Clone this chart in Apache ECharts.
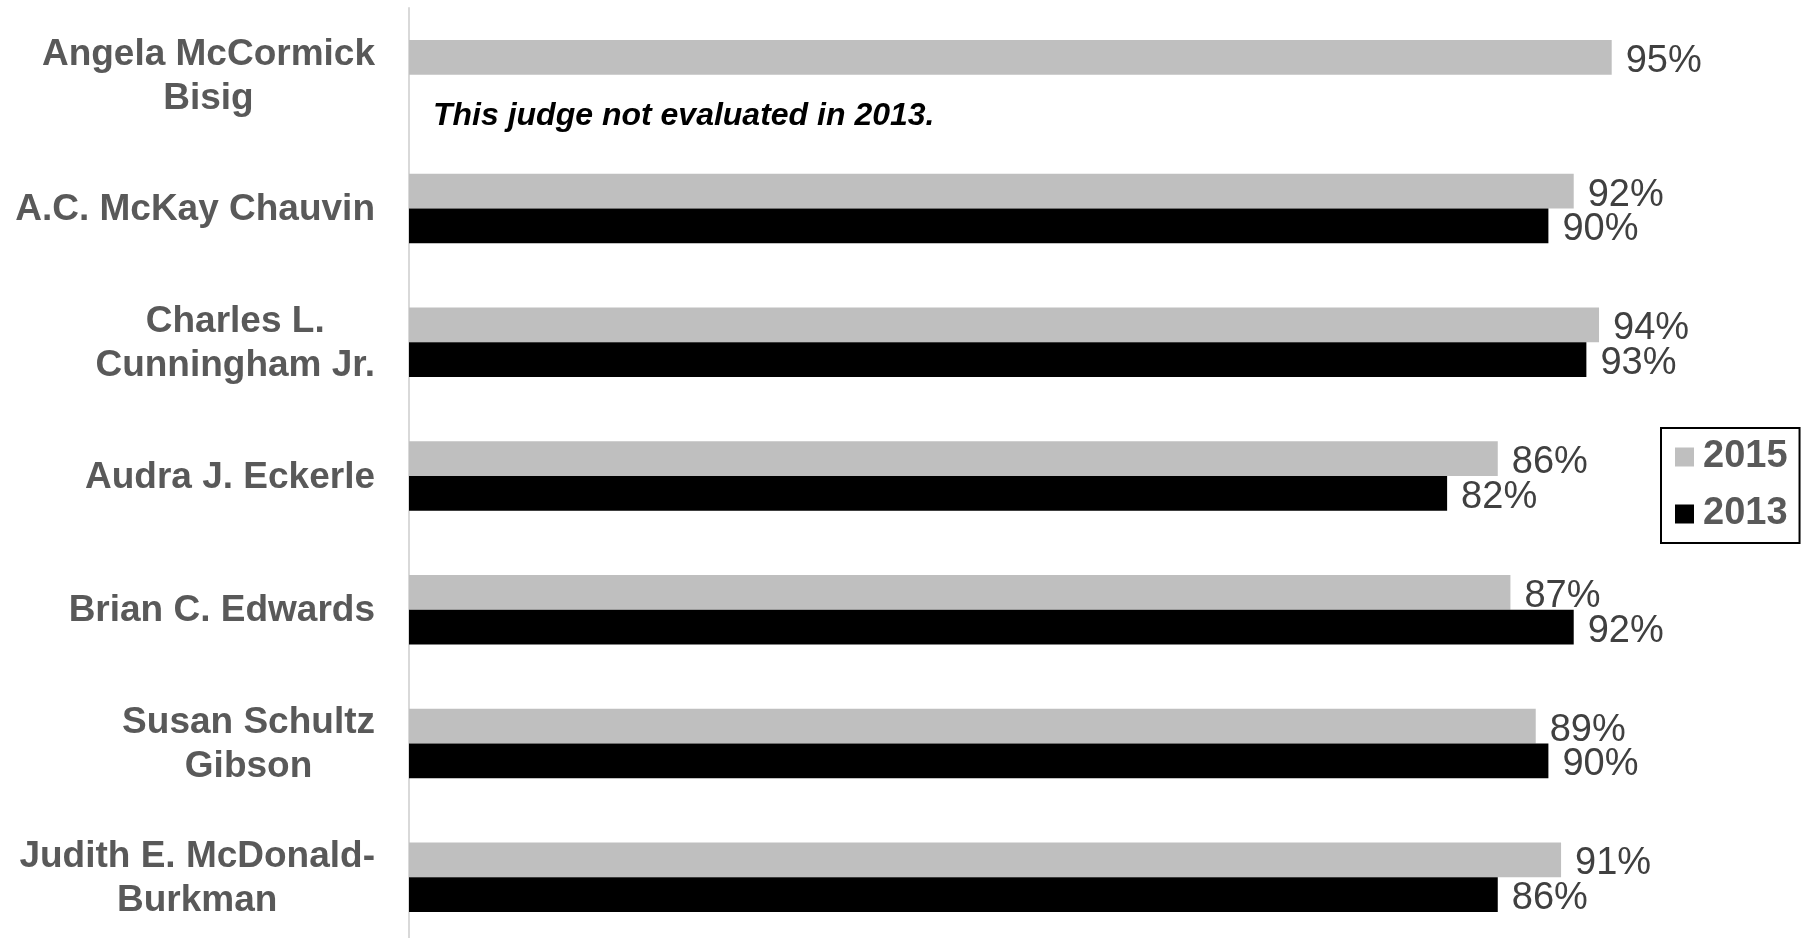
<!DOCTYPE html>
<html>
<head>
<meta charset="utf-8">
<script src="https://cdn.jsdelivr.net/npm/echarts@6/dist/echarts.min.js"></script>
<style>
  html, body { margin: 0; padding: 0; background: #fff; }
  #main { width: 1805px; height: 938px; }
</style>
</head>
<body>
<div id="main"></div>
<script>
// judges, top to bottom
var judges = [
  'Angela McCormick\nBisig',
  'A.C. McKay Chauvin',
  'Charles L.\nCunningham Jr.',
  'Audra J. Eckerle',
  'Brian C. Edwards',
  'Susan Schultz\nGibson',
  'Judith E. McDonald-\nBurkman'
];
var seriesNames = ['2015', '2013'];
var values2015 = [95, 92, 94, 86, 87, 89, 91];
var values2013 = [null, 90, 93, 82, 92, 90, 86];
var noteText = 'This judge not evaluated in 2013.';

var FONT = 'Arial, "Liberation Sans", sans-serif';

var chart = echarts.init(document.getElementById('main'));

var valueLabel = {
  show: true,
  position: 'right',
  distance: 14,
  offset: [0, 4],
  formatter: '{c}%',
  color: '#404040',
  fontSize: 38,
  fontFamily: FONT
};

var option = {
  animation: false,
  grid: {
    left: 409,
    top: 8,
    right: 130,
    height: 936,
    outerBoundsMode: 'none'
  },
  legend: {
    orient: 'vertical',
    left: 1661,
    top: 428,
    padding: [10, 12, 10, 14],
    borderColor: '#000',
    borderWidth: 2,
    itemWidth: 19,
    itemHeight: 19,
    itemGap: 19,
    icon: 'rect',
    textStyle: {
      color: '#595959',
      fontSize: 38,
      fontWeight: 'bold',
      fontFamily: FONT,
      padding: [0, 0, 0, 4]
    },
    data: seriesNames
  },
  xAxis: {
    type: 'value',
    min: 0,
    max: 100,
    show: false
  },
  yAxis: {
    type: 'category',
    inverse: true,
    data: judges,
    axisLine: { show: true, lineStyle: { color: '#d9d9d9', width: 2 } },
    axisTick: { show: false },
    axisLabel: {
      margin: 34,
      align: 'right',
      formatter: function (v) {
        return v.split('\n').map(function (s) { return '{a|' + s + '}'; }).join('\n');
      },
      rich: {
        a: {
          align: 'center',
          color: '#595959',
          fontSize: 37,
          lineHeight: 44,
          fontWeight: 'bold',
          fontFamily: FONT,
          padding: [3, 0, 0, 0]
        }
      }
    }
  },
  series: [
    {
      name: seriesNames[0],
      type: 'bar',
      data: values2015,
      barGap: '0%',
      barCategoryGap: '48%',
      itemStyle: { color: '#bfbfbf' },
      label: valueLabel
    },
    {
      name: seriesNames[1],
      type: 'bar',
      data: values2013,
      itemStyle: { color: '#000000' },
      label: valueLabel
    }
  ]
};

chart.setOption(option);

// note placed under the first judge's 2015 bar, where 2013 would be
var axisX = chart.convertToPixel({ xAxisIndex: 0 }, 0);
var catY = chart.convertToPixel({ yAxisIndex: 0 }, judges[0]);
chart.setOption({
  graphic: [{
    type: 'text',
    left: axisX + 24,
    top: catY + 44 - 19,
    style: {
      text: noteText,
      fill: '#000',
      fontSize: 32,
      fontWeight: 'bold',
      fontStyle: 'italic',
      fontFamily: FONT
    }
  }]
});
</script>
</body>
</html>
